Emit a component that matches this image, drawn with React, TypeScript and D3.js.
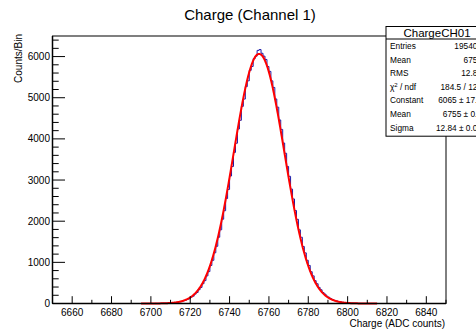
import * as d3 from "d3";

// histogram bins, 1 ADC count wide, first bin low edge = binStart
const binStart = 6700;
const counts = [
  1, 0, 2, 1, 3, 2, 5, 6, 9, 8,
  14, 16, 24, 27, 40, 45, 63, 74, 98, 116,
  152, 178, 229, 268, 335, 390, 481, 556, 671, 775,
  923, 1049, 1232, 1390, 1610, 1791, 2048, 2255, 2551, 2772,
  3098, 3330, 3671, 3895, 4240, 4452, 4790, 4968, 5270, 5410,
  5665, 5760, 5950, 6010, 6150, 6170, 6080, 6010, 5930, 5760,
  5640, 5410, 5250, 4970, 4770, 4460, 4230, 3900, 3650, 3330,
  3090, 2780, 2540, 2260, 2045, 1790, 1610, 1385, 1230, 1050,
  925, 772, 672, 555, 480, 392, 334, 268, 228, 178,
  150, 117, 97, 74, 62, 46, 38, 28, 23, 16,
  13, 9, 8, 5, 4, 3, 2, 1, 1, 0,
];

// gaussian fit parameters (from the stats box) and drawn fit range
const fitConstant = 6065;
const fitMean = 6755;
const fitSigma = 12.84;
const fitRange = [6695, 6815];

const xMajor = [6660, 6680, 6700, 6720, 6740, 6760, 6780, 6800, 6820, 6840];
const yMajor = [0, 1000, 2000, 3000, 4000, 5000, 6000];

const statLabels = ["Entries", "Mean", "RMS", "chi2", "Constant", "Mean", "Sigma"];
const statValues = ["195402", "6755", "12.84", "184.5 / 121", "6065 ± 17.2", "6755 ± 0.0", "12.84 ± 0.02"];

const W = 476;
const H = 329;
const font = "'Liberation Sans', Arial, Helvetica, sans-serif";

export default function App() {
  const x = d3.scaleLinear().domain([6650, 6850]).range([52.5, 446]);
  const y = d3.scaleLinear().domain([0, 6500]).range([303.5, 36]);
  const [x0, x1] = x.range();
  const [y0, y1] = y.range();

  // step outline of the histogram over the full axis range
  const histPts: [number, number][] = [];
  for (let b = 6650; b < 6850; b++) {
    const i = b - binStart;
    const v = i >= 0 && i < counts.length ? counts[i] : 0;
    histPts.push([b, v]);
  }
  histPts.push([6850, 0]);
  const histLine = d3
    .line<[number, number]>()
    .x((d) => x(d[0]))
    .y((d) => y(d[1]))
    .curve(d3.curveStepAfter);

  const gauss = (v: number) =>
    fitConstant * Math.exp(-((v - fitMean) ** 2) / (2 * fitSigma * fitSigma));
  const fitPts = d3
    .range(fitRange[0], fitRange[1] + 0.01, 0.25)
    .map((v) => [v, gauss(v)] as [number, number]);
  const fitLine = d3
    .line<[number, number]>()
    .x((d) => x(d[0]))
    .y((d) => y(d[1]));

  const xMinor = d3.range(6650, 6851, 10).filter((v) => !xMajor.includes(v));
  const yMinor = d3.range(0, 6501, 200).filter((v) => !yMajor.includes(v));

  // stats box geometry
  const bx = 386;
  const bTop = 26.5;
  const bRight = 488;
  const headH = 12.5;
  const rowH = 13.6;

  return (
    <svg
      width={W}
      height={H}
      style={{ position: "absolute", left: 0, top: 0, background: "#fff" }}
      fontFamily={font}
    >
      <rect x={0} y={0} width={W} height={H} fill="#fff" />
      <text x={250} y={20} fontSize={15} textAnchor="middle" fill="#000">
        Charge (Channel 1)
      </text>

      <path d={histLine(histPts) ?? ""} fill="none" stroke="#1c1ca8" strokeWidth={1} />
      <path d={fitLine(fitPts) ?? ""} fill="none" stroke="#ff0000" strokeWidth={2} />

      {/* frame */}
      <rect x={x0} y={y1} width={x1 - x0} height={y0 - y1} fill="none" stroke="#000" strokeWidth={1} />
      <line x1={x0} x2={x1} y1={y0} y2={y0} stroke="#000" strokeWidth={1.5} />
      <line x1={x0} x2={x0} y1={y0} y2={y1} stroke="#000" strokeWidth={1.5} />

      {/* x ticks */}
      {xMajor.map((v) => (
        <g key={"xm" + v}>
          <line x1={x(v)} x2={x(v)} y1={y0} y2={y0 - 7.3} stroke="#000" />
          <text x={x(v)} y={315.5} fontSize={10} textAnchor="middle" fill="#000">
            {v}
          </text>
        </g>
      ))}
      {xMinor.map((v) => (
        <line key={"xn" + v} x1={x(v)} x2={x(v)} y1={y0} y2={y0 - 3.7} stroke="#000" />
      ))}
      <text x={445} y={327} fontSize={10} textAnchor="end" fill="#000">
        Charge (ADC counts)
      </text>

      {/* y ticks */}
      {yMajor.map((v) => (
        <g key={"ym" + v}>
          <line x1={x0} x2={x0 + 12.5} y1={y(v)} y2={y(v)} stroke="#000" />
          <text x={50} y={y(v) + 3.6} fontSize={10} textAnchor="end" fill="#000">
            {v}
          </text>
        </g>
      ))}
      {yMinor.map((v) => (
        <line key={"yn" + v} x1={x0} x2={x0 + 6.2} y1={y(v)} y2={y(v)} stroke="#000" />
      ))}
      <text
        transform={`translate(21.5,${y1 - 2}) rotate(-90)`}
        fontSize={10}
        textAnchor="end"
        fill="#000"
      >
        Counts/Bin
      </text>

      {/* stats box, runs past the right edge like the original canvas */}
      <rect
        x={bx}
        y={bTop}
        width={bRight - bx}
        height={headH + rowH * statLabels.length + 2}
        fill="#fff"
        stroke="#000"
        strokeWidth={1}
      />
      <line x1={bx} x2={bRight} y1={bTop + headH} y2={bTop + headH} stroke="#000" />
      <text x={(bx + bRight) / 2} y={bTop + headH - 2} fontSize={11.5} textAnchor="middle" fill="#000">
        ChargeCH01
      </text>
      {statLabels.map((lab, i) => {
        const ty = bTop + headH + rowH * (i + 0.5) + 3.2;
        return (
          <g key={"s" + i}>
            <text x={bx + 4} y={ty} fontSize={8.3} fill="#000">
              {lab === "chi2" ? (
                <>
                  χ<tspan fontSize={6} dy={-3}>2</tspan>
                  <tspan dy={3}> / ndf</tspan>
                </>
              ) : (
                lab
              )}
            </text>
            <text x={482} y={ty} fontSize={8.3} textAnchor="end" fill="#000">
              {statValues[i]}
            </text>
          </g>
        );
      })}
    </svg>
  );
}
